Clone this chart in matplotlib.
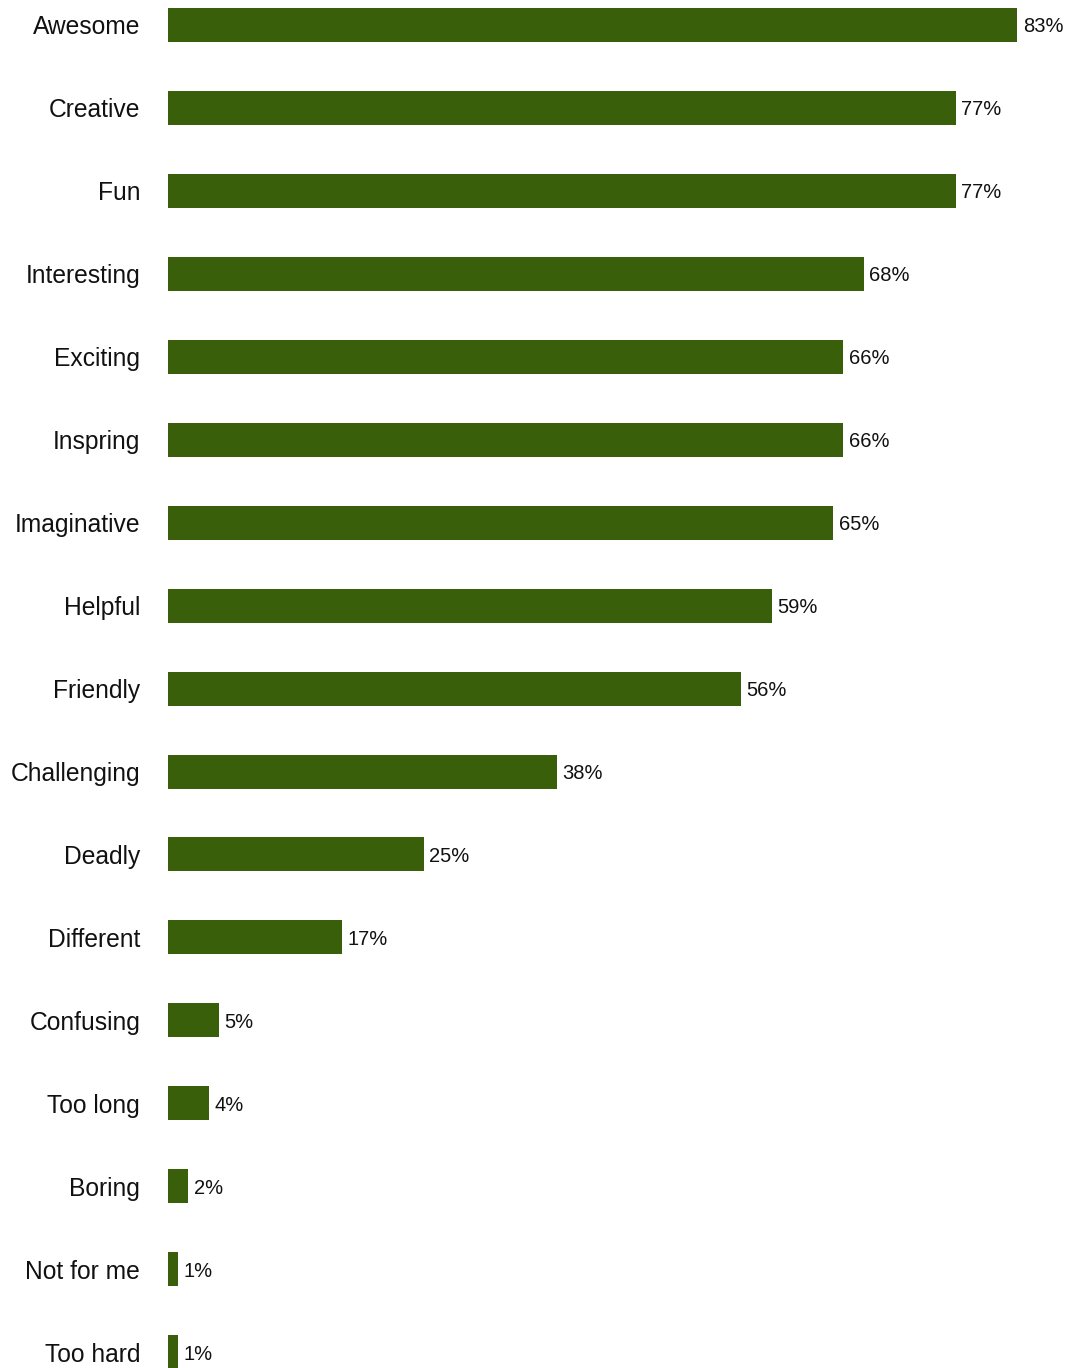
import matplotlib
matplotlib.use("Agg")
import matplotlib.pyplot as plt

plt.rcParams["font.family"] = ["Liberation Sans", "DejaVu Sans"]

categories = ["Awesome", "Creative", "Fun", "Interesting", "Exciting", "Inspring",
              "Imaginative", "Helpful", "Friendly", "Challenging", "Deadly",
              "Different", "Confusing", "Too long", "Boring", "Not for me", "Too hard"]
values = [83, 77, 77, 68, 66, 66, 65, 59, 56, 38, 25, 17, 5, 4, 2, 1, 1]

bar_color = "#3a5f0b"

fig = plt.figure(figsize=(10.83, 13.68), dpi=100)
ax = fig.add_axes([168 / 1083, 0, 1 - 168 / 1083, 1])

pos = list(range(len(categories)))
ax.barh(pos, values, height=0.41, color=bar_color)

for p, v in zip(pos, values):
    ax.annotate(f"{v}%", (v, p), xytext=(4, 0), textcoords="offset points",
                va="center_baseline", ha="left", fontsize=14.5, color="#111111")

ax.set_yticks(pos)
ax.set_yticklabels(categories, fontsize=17.7, color="#111111")
ax.tick_params(axis="y", length=0, pad=20)
ax.set_xticks([])
ax.set_xlim(0, 915 / 10.23)
ax.set_ylim(16.19, -0.30)
for s in ax.spines.values():
    s.set_visible(False)

fig.savefig("out.png", dpi=100)
